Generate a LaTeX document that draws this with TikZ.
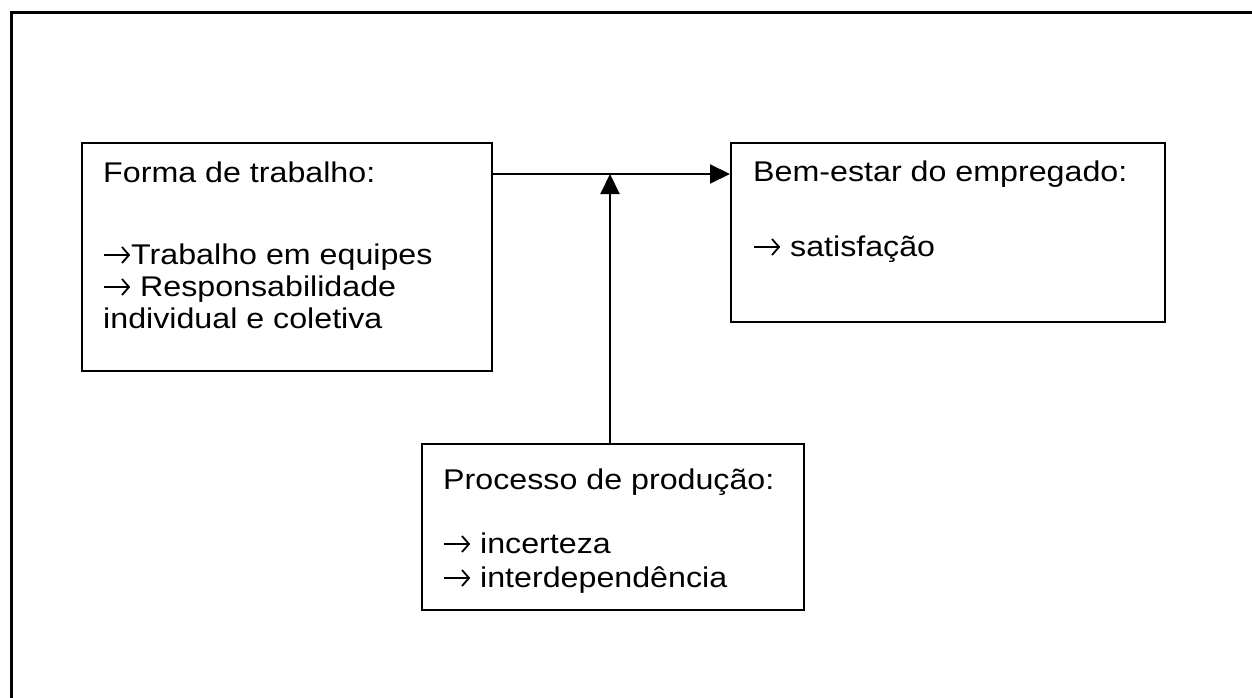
\documentclass[tikz,border=0pt]{standalone}
\usepackage{fontspec}
\setmainfont{Liberation Sans}[FakeStretch=1.13]
\usetikzlibrary{arrows.meta}
\newcommand{\myarr}{\tikz[baseline=0pt]{\path (0pt,0pt) (28pt,0pt);\draw[line width=1.8pt,-{Straight Barb[length=7pt,width=16pt,line width=1.8pt]}] (1pt,9pt) -- (27pt,9pt);}}
\begin{document}
\begin{tikzpicture}[x=1pt,y=-1pt,
  box/.style={draw,line width=2pt,inner sep=0pt,anchor=north west},
  txt/.style={anchor=base west,inner sep=0pt,font=\fontsize{28.5}{34}\selectfont},
  conn/.style={line width=2pt,-{Triangle[length=20pt,width=19pt]}}]
\useasboundingbox (0,0) rectangle (1252,698);
\draw[line width=3pt] (11,698) -- (11,13) -- (1252,13);
% boxes
\node[box,minimum width=410pt,minimum height=228pt] (f) at (81,142) {};
\node[box,minimum width=434pt,minimum height=179pt] (b) at (730,142) {};
\node[box,minimum width=382pt,minimum height=166pt] (p) at (421,443) {};
% texts
\node[txt] (f1) at (103,182) {Forma de trabalho:};
\node[txt] (f2) at (103,264) {\myarr Trabalho em equipes};
\node[txt] (f3) at (103,296) {\myarr{} Responsabilidade};
\node[txt] (f4) at (103,328) {individual e coletiva};
\node[txt] (b1) at (753,181) {Bem-estar do empregado:};
\node[txt] (b2) at (753,256) {\myarr{} satisfação};
\node[txt] (p1) at (443,489) {Processo de produção:};
\node[txt] (p2) at (443,553) {\myarr{} incerteza};
\node[txt] (p3) at (443,587) {\myarr{} interdependência};
% connectors
\coordinate (j) at (610,174);
\draw[conn] (f.east |- j) -- (b.west |- j);
\draw[conn] (p.north -| j) -- (j);
\end{tikzpicture}
\end{document}
